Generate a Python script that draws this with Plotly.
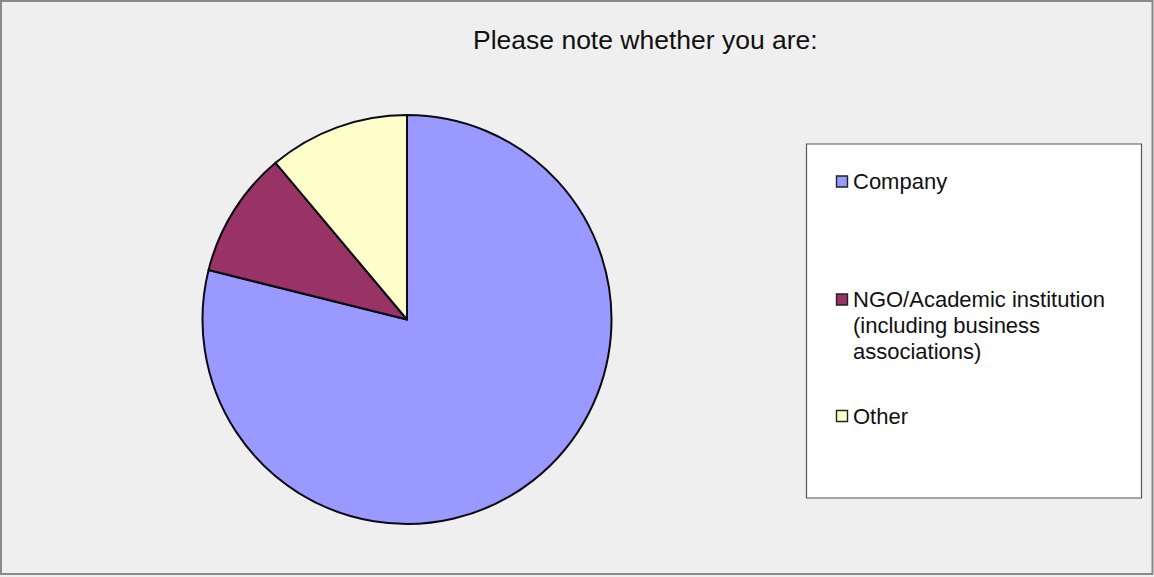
import plotly.graph_objects as go

W, H = 1154, 577

title_text = "Please note whether you are:"
categories = ["Company", "NGO/Academic institution (including business associations)", "Other"]
legend_lines = [["Company"], ["NGO/Academic institution", "(including business", "associations)"], ["Other"]]
values = [71, 9, 10]
colors = ["#9999FF", "#993366", "#FFFFCC"]


def px(x):
    return x / W


def py(y):
    return 1 - y / H


fig = go.Figure()
fig.add_trace(go.Pie(
    labels=categories,
    values=values,
    sort=False,
    direction="clockwise",
    rotation=0,
    marker=dict(colors=colors, line=dict(color="#0a0a14", width=2)),
    textinfo="none",
    showlegend=False,
    domain=dict(x=[px(202.5), px(611.5)], y=[py(524), py(115)]),
))

shapes = []
annotations = []

# outer border
shapes.append(dict(type="rect", xref="paper", yref="paper",
                   x0=px(1), x1=px(1152.5), y0=py(574), y1=py(1),
                   line=dict(color="#8a8a8a", width=2), fillcolor="rgba(0,0,0,0)", layer="below"))

# legend box
shapes.append(dict(type="rect", xref="paper", yref="paper",
                   x0=px(806.5), x1=px(1141.5), y0=py(498), y1=py(144),
                   line=dict(color="#555555", width=1.2), fillcolor="white", layer="below"))

# legend entries
first_line_y = [181.5, 299.5, 416.0]
line_gap = 26
font_leg = dict(family="Liberation Sans, Arial, sans-serif", size=22, color="#111111")
for i, (lines, col) in enumerate(zip(legend_lines, colors)):
    yc = first_line_y[i]
    shapes.append(dict(type="rect", xref="paper", yref="paper",
                       x0=px(836.5), x1=px(847.5), y0=py(yc + 5.5), y1=py(yc - 5.5),
                       line=dict(color="#222222", width=1.4), fillcolor=col))
    for j, t in enumerate(lines):
        annotations.append(dict(xref="paper", yref="paper", x=px(851), y=py(yc + j * line_gap),
                                xanchor="left", yanchor="middle", text=t, showarrow=False,
                                font=font_leg))

# title
annotations.append(dict(xref="paper", yref="paper", x=px(645.5), y=py(40),
                        xanchor="center", yanchor="middle", text=title_text, showarrow=False,
                        font=dict(family="Liberation Sans, Arial, sans-serif", size=26.5, color="#111111")))

fig.update_layout(
    width=W, height=H,
    margin=dict(l=0, r=0, t=0, b=0),
    paper_bgcolor="#efefef",
    plot_bgcolor="#efefef",
    shapes=shapes,
    annotations=annotations,
    showlegend=False,
)

fig.write_html("out.html", config={"displayModeBar": False},
               post_script="document.body.style.margin='0';document.body.style.padding='0';document.body.style.overflow='hidden';")
